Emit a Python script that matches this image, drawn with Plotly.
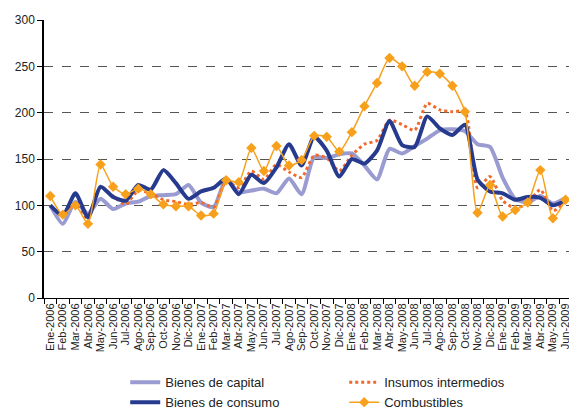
import plotly.graph_objects as go

# Months Ene-2006 .. Jun-2009
meses = ["Ene", "Feb", "Mar", "Abr", "May", "Jun", "Jul", "Ago", "Sep", "Oct", "Nov", "Dic"]
periodos = [f"{m}-{a}" for a in (2006, 2007, 2008) for m in meses] + \
           [f"{m}-2009" for m in meses[:6]]

bienes_capital = [100, 80, 104, 91, 107, 96, 102, 104, 110, 111, 112, 122,
                  103, 98, 128, 114, 116, 118, 113, 129, 112, 152, 151, 155,
                  156, 143, 128, 161, 156, 164, 172, 181, 182, 180, 166, 163,
                  130, 107, 103, 110, 102, 108]

insumos_intermedios = [100, 90, 102, 85, 120, 110, 101, 116, 113, 106, 104, 101,
                       103, 98, 126, 119, 137, 128, 144, 136, 130, 154, 151, 137,
                       154, 166, 170, 192, 187, 181, 210, 203, 201, 201, 119, 131,
                       105, 97, 102, 117, 94, 104]

bienes_consumo = [100, 89, 113, 87, 120, 109, 105, 122, 117, 138, 124, 107,
                  115, 119, 129, 112, 133, 124, 141, 166, 143, 174, 159, 131,
                  150, 145, 159, 191, 165, 163, 196, 183, 176, 187, 128, 115,
                  113, 106, 109, 108, 100, 105]

combustibles = [110, 90, 100, 80, 144, 120, 112, 118, 112, 101, 99, 99,
                89, 91, 127, 125, 162, 137, 164, 143, 149, 175, 174, 158,
                179, 207, 232, 259, 250, 229, 244, 242, 229, 201, 92, 122,
                88, 95, 103, 138, 86, 106]

fig = go.Figure()

fig.add_trace(go.Scatter(
    x=periodos, y=bienes_capital, name="Bienes de capital",
    mode="lines", line=dict(color="#9a9bd1", width=4, shape="spline", smoothing=0.6)
))
fig.add_trace(go.Scatter(
    x=periodos, y=insumos_intermedios, name="Insumos intermedios",
    mode="lines", line=dict(color="#f26a2b", width=3, dash="dot", shape="spline", smoothing=0.6)
))
fig.add_trace(go.Scatter(
    x=periodos, y=bienes_consumo, name="Bienes de consumo",
    mode="lines", line=dict(color="#263a8e", width=4, shape="spline", smoothing=0.6)
))
fig.add_trace(go.Scatter(
    x=periodos, y=combustibles, name="Combustibles",
    mode="lines+markers", line=dict(color="#f7a01c", width=1.5, shape="spline", smoothing=0.6),
    marker=dict(symbol="diamond", size=8, color="#f7a01c")
))

# page body keeps its default 8px margin, so the figure is 8px smaller
fig.update_layout(
    width=569, height=401,
    margin=dict(l=36, r=4, t=12, b=111),
    paper_bgcolor="white", plot_bgcolor="white",
    font=dict(family="Liberation Sans, Arial, sans-serif", color="#222", size=12),
    showlegend=True,
    legend=dict(
        orientation="h", xref="container", yref="container",
        x=0.206, y=0.104, xanchor="left", yanchor="top",
        entrywidth=174, entrywidthmode="pixels",
        font=dict(size=13, color="#222"),
        tracegroupgap=0, itemwidth=30,
    ),
    xaxis=dict(
        type="category", range=[-0.5, 41.6], automargin=False,
        tickmode="linear", tick0=0, dtick=1,
        tickangle=-90, tickfont=dict(size=11, color="#222"),
        tickson="boundaries", ticks="outside", ticklen=5, tickcolor="black",
        showline=True, linecolor="black", linewidth=1,
        showgrid=False, zeroline=False,
    ),
    yaxis=dict(
        range=[0, 300], dtick=50, automargin=False,
        ticks="outside", ticklen=5, tickcolor="black",
        showline=True, linecolor="black", linewidth=1.5,
        showgrid=True, gridcolor="#555", griddash="dash", gridwidth=1,
        zeroline=False, tickfont=dict(size=12, color="#222"),
    ),
)

fig.write_html("out.html")
